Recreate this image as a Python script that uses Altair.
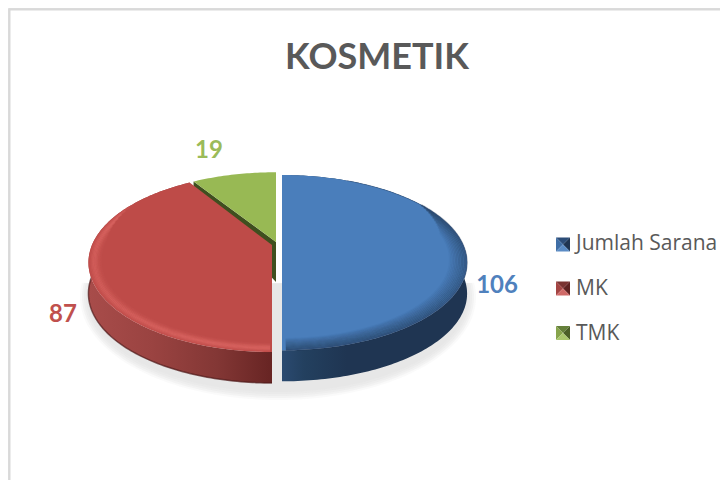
import math
import altair as alt
import pandas as pd

categories = ["Jumlah Sarana", "MK", "TMK"]
values = [106, 87, 19]
face_colors = ["#4a7ebb", "#be4b48", "#98b954"]
label_colors = ["#4f81bd", "#c0504d", "#9bbb59"]
legend_rows = [244.5, 288.5, 333]
label_x = [497, 63, 209]
label_y = [286, 315, 151]
FONT = "Lato"

# projection of the tilted pie
P = 0.196
SB = 86.0
DEPTH = 31
total = sum(values)
spans = []
start = 0.0
for v in values:
    end = start + v / total * 360
    spans.append((start, end))
    start = end
# per slice: apex x, apex y, horizontal radius, vertical factor
geom = [(282, 245.5, 181.5, 0.98), (272, 245, 180, 1.0), (276, 242, 180, 0.97)]


def pt(i, th, r=1.0, dy=0.0):
    cx, cy, sa, f = geom[i]
    u = math.sin(math.radians(th)) * r
    v = -math.cos(math.radians(th)) * r
    w = 1 / (1 - P * v)
    return cx + sa * u * w, cy + SB * f * v * w + dy


def arc(i, a, b, r=1.0, dy=0.0, step=1.0):
    n = max(2, int(abs(b - a) / step) + 1)
    return [pt(i, a + (b - a) * k / (n - 1), r, dy) for k in range(n)]


def frame(points, **cols):
    return pd.DataFrame(
        [dict(x=x, y=y, i=k, **cols) for k, (x, y) in enumerate(points)]
    )


X = alt.X("x:Q", scale=alt.Scale(domain=[8, 720]), axis=None)
Y = alt.Y("y:Q", scale=alt.Scale(domain=[8, 480], reverse=True), axis=None)
ORDER = alt.Order("i:Q")


def poly(points, fill, opacity=1.0):
    return (
        alt.Chart(frame(points))
        .mark_line(fill=fill, stroke=None, strokeWidth=0, opacity=opacity, clip=False)
        .encode(x=X, y=Y, order=ORDER)
    )


def stroke(points, color, width, opacity=1.0):
    return (
        alt.Chart(frame(points))
        .mark_line(stroke=color, strokeWidth=width, opacity=opacity, strokeCap="butt")
        .encode(x=X, y=Y, order=ORDER)
    )


def grad(stops):
    return {
        "gradient": "linear", "x1": 0, "x2": 1, "y1": 0, "y2": 0,
        "stops": [{"offset": o, "color": c} for o, c in stops],
    }


layers = []

# outer frame of the picture
layers.append(stroke([(9.5, 480), (9.5, 9.5), (720, 9.5)], "#d9d9d9", 2))

# soft ground shadow hugging the lower silhouette
for grow, op in [(7, 0.2), (5, 0.3), (3, 0.4), (1, 0.5), (-1, 0.8)]:
    pts = []
    for t in range(-100, 101, 2):
        yy = 297 + (96 + grow) * math.cos(math.radians(t))
        if yy >= 282:
            pts.append((278 + (191 + grow) * math.sin(math.radians(t)), yy))
    layers.append(poly(pts, "#e6e6e6", op))


def wall(i, a, b):
    top = arc(i, a, b)
    return top + [(x, y + DEPTH) for x, y in reversed(top)]


# green slice with its dark cut faces
gs, ge = spans[2]
g_out = pt(2, gs)
g_apex = pt(2, 0, 0.0)
layers.append(poly([g_out, g_apex, (g_apex[0], g_apex[1] + 40),
                    (g_out[0], g_out[1] + 12)], "#3f4f1f"))
layers.append(poly([g_apex] + arc(2, gs, ge) + [g_apex], "#98b954"))

# red slice
rs, re = spans[1]
layers.append(poly(wall(1, rs, re), grad([
    (0, "#a84c4a"), (0.35, "#9a4341"), (0.7, "#833735"), (1, "#672423")])))
layers.append(stroke(arc(1, rs, 270, 1.0, DEPTH), "#4f1a1a", 1.5, 0.7))

# blue slice
bs, be = spans[0]
layers.append(poly(wall(0, bs, be), grad([
    (0, "#2b4a70"), (0.12, "#23405f"), (0.35, "#1f3552"), (1, "#1f3552")])))

# top faces carry the legend's colours
faces = []
for idx in [0, 1]:
    a, b = spans[idx]
    apex = pt(idx, 0, 0.0)
    faces.append(frame([apex] + arc(idx, a, b) + [apex], cat=categories[idx], idx=idx))
faces_df = pd.concat(faces)
legend = alt.Legend(
    title=None, orient="none", legendX=547, legendY=225,
    symbolType="square", symbolSize=196, symbolStrokeWidth=0, symbolOpacity=0,
    labelFont="Open Sans", labelFontSize=21, labelColor="#595959",
    rowPadding=23, labelOffset=0,
    values=categories,
)
layers.append(
    alt.Chart(faces_df)
    .mark_line(strokeWidth=0)
    .encode(
        x=X, y=Y, order=ORDER,
        fill=alt.Fill("cat:N", scale=alt.Scale(domain=categories, range=face_colors),
                      legend=legend),
    )
)

# bevel along the rim of the red slice: soft, many thin passes
for k in range(10):
    r = 0.997 - k * 0.007
    peak = [0.05, 0.12, 0.2, 0.28, 0.32, 0.28, 0.2, 0.14, 0.08, 0.04][k]
    layers.append(stroke(arc(1, 180.5, 302 - k * 3, r), "#ec7674", 1.8, peak))

# bevel along the rim of the blue slice: darkening toward the edge
for k in range(12):
    r = 0.998 - k * 0.008
    layers.append(stroke(arc(0, 58 + k * 2, 179, r), "#1f3552", 1.9, 0.44 - k * 0.036))
layers.append(stroke(arc(0, 25, 60, 0.998), "#1f3552", 1.0, 0.3))

# data labels
labels_df = pd.DataFrame({
    "x": label_x, "y": label_y, "v": [str(v) for v in values], "cat": categories,
})
layers.append(
    alt.Chart(labels_df)
    .mark_text(font=FONT, fontSize=24, fontWeight="bold")
    .encode(
        x=X, y=Y, text="v:N",
        color=alt.Color("cat:N", scale=alt.Scale(domain=categories, range=label_colors),
                        legend=None),
    )
)

# bevelled legend keys
for row, base in zip(legend_rows, ["b", "r", "g"]):
    shades = {
        "b": ("#2c4d78", "#3f6ea6", "#1f3552", "#5b8cc5"),
        "r": ("#7a3331", "#a44543", "#5f2221", "#d06a68"),
        "g": ("#65803a", "#87a44c", "#4b5f27", "#aac76d"),
    }[base]
    x0, x1, y0, y1 = 556, 570, row - 7, row + 7
    xm, ym = (x0 + x1) / 2, (y0 + y1) / 2
    tris = [
        [(x0, y0), (x1, y0), (xm, ym)],
        [(x0, y0), (x0, y1), (xm, ym)],
        [(x1, y0), (x1, y1), (xm, ym)],
        [(x0, y1), (x1, y1), (xm, ym)],
    ]
    for tri, col in zip(tris, shades):
        layers.append(poly(tri + [tri[0]], col))

chart = (
    alt.layer(*layers)
    .resolve_scale(color="independent")
    .properties(
        width=712, height=472, padding=0,
        autosize=alt.AutoSizeParams(type="none"),
        title=alt.TitleParams(
            "KOSMETIK", font=FONT, fontSize=36, fontWeight="bold", color="#595959",
            anchor="middle", frame="group", dx=13, offset=-71,
        ),
    )
    .configure_view(stroke=None)
    .configure(background="white")
)

chart.save("out.html", embed_options={"renderer": "svg", "actions": False})
